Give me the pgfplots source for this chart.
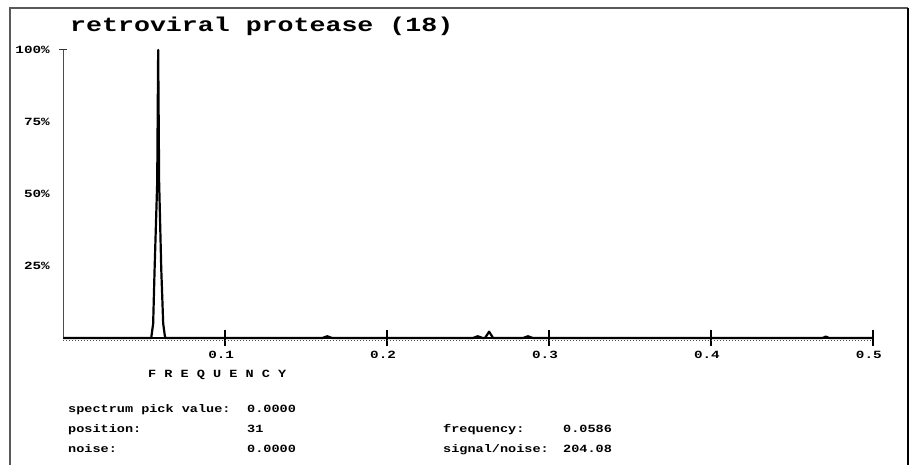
\documentclass[border=0pt]{standalone}
\usepackage{pgfplots}
\pgfplotsset{compat=1.18}
\usepackage{fontspec}
\setmainfont{Liberation Mono}
\newfontfamily\titlefont[FakeStretch=1.33]{Liberation Mono}
\newfontfamily\infofont[FakeStretch=1.23]{Liberation Mono}
\newfontfamily\tickfont[FakeStretch=1.3]{Liberation Mono}
\newcommand\infof{\infofont\bfseries\fontsize{11}{11}\selectfont}
\newcommand\tickf{\tickfont\bfseries\fontsize{11}{11}\selectfont}
\begin{document}
\begin{tikzpicture}[x=1pt,y=1pt]
\useasboundingbox (0,0) rectangle (911,465);
\fill[white] (0,0) rectangle (911,465);
\draw[black!65, line width=1.5pt] (10,0) -- (10,457) -- (908,457);
\draw[black, line width=2pt] (908,457) -- (908,0);
\begin{axis}[
  at={(63.3pt,127pt)}, anchor=south west,
  scale only axis, width=809.5pt, height=288pt,
  xmin=0, xmax=0.5, ymin=0, ymax=100,
  axis x line=bottom, axis y line=left,
  x axis line style={-, line width=2pt},
  y axis line style={-, line width=1pt, black!70},
  xtick={0.1,0.2,0.3,0.4,0.5},
  xticklabels={0.1,0.2,0.3,0.4,0.5},
  ytick={25,50,75,100},
  yticklabels={25\%,50\%,75\%,100\%},
  tick align=center,
  major tick length=16pt,
  xtick style={line width=2pt, black},
  ytick style={draw=none},
  xticklabel style={font=\tickf, anchor=north, xshift=-4pt, yshift=-2pt},
  yticklabel style={font=\tickf, anchor=east, xshift=-2pt},
  clip=false,
]
\addplot[black, line width=2.2pt, line join=round] coordinates {
 (0,0) (0.0543,0) (0.0555,5) (0.0564,24) (0.0580,54) (0.0586,100)
 (0.0592,54) (0.0605,24) (0.0617,5) (0.0629,0)
 (0.160,0) (0.163,0.6) (0.166,0)
 (0.253,0) (0.256,0.6) (0.259,0)
 (0.2605,0) (0.263,2.2) (0.2655,0)
 (0.284,0) (0.287,0.6) (0.290,0)
 (0.469,0) (0.471,0.5) (0.473,0)
 (0.5,0)
};
\draw[line width=1pt, black!80] (axis cs:0,100) ++(-4pt,0) -- ++(8pt,0);
\draw[line width=1pt, black!70, dash pattern=on 1pt off 2pt] (axis cs:0,0) ++(0,-2.5pt) -- ([yshift=-2.5pt]axis cs:0.5,0);
\end{axis}
\node[anchor=base west, inner sep=0pt, font=\titlefont\bfseries\fontsize{20}{20}\selectfont] at (70,433) {retroviral protease (18)};
\node[anchor=base west, inner sep=0pt, font=\infof] at (148,87) {F R E Q U E N C Y};
\node[anchor=base west, inner sep=0pt, font=\infof] at (68,52) {spectrum pick value:};
\node[anchor=base west, inner sep=0pt, font=\infof] at (247,52) {0.0000};
\node[anchor=base west, inner sep=0pt, font=\infof] at (68,32) {position:};
\node[anchor=base west, inner sep=0pt, font=\infof] at (247,32) {31};
\node[anchor=base west, inner sep=0pt, font=\infof] at (443,32) {frequency:};
\node[anchor=base west, inner sep=0pt, font=\infof] at (563,32) {0.0586};
\node[anchor=base west, inner sep=0pt, font=\infof] at (68,12) {noise:};
\node[anchor=base west, inner sep=0pt, font=\infof] at (247,12) {0.0000};
\node[anchor=base west, inner sep=0pt, font=\infof] at (443,12) {signal/noise:};
\node[anchor=base west, inner sep=0pt, font=\infof] at (563,12) {204.08};
\end{tikzpicture}
\end{document}
